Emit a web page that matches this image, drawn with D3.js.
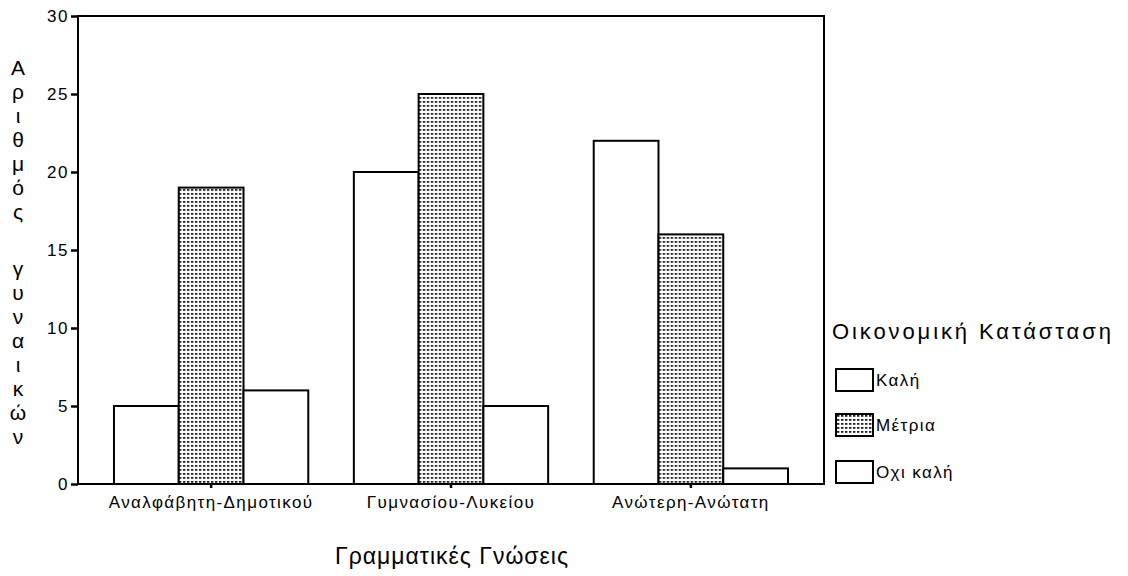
<!DOCTYPE html>
<html>
<head>
<meta charset="utf-8">
<title></title>
<style type="text/css">
body { margin: 0; background: #fff; }
text { font-family: "Liberation Sans", Arial, sans-serif; fill: #000; }
.bar { stroke: #000; stroke-width: 2px; }
.tick line { stroke: #000; stroke-width: 2.5px; }
</style>
</head>
<body>
<svg width="1128" height="576"></svg>
<script src="https://d3js.org/d3.v7.min.js"></script>
<script>
// data
var categories = ["Αναλφάβητη-Δημοτικού", "Γυμνασίου-Λυκείου", "Ανώτερη-Ανώτατη"]
var series = ["Καλή", "Μέτρια", "Οχι καλή"]
var kali = [5, 20, 22]
var metria = [19, 25, 16]
var oxiKali = [6, 5, 1]
var yTicks = [0, 5, 10, 15, 20, 25, 30]
var yTitleWords = ["Αριθμός", "γυναικών"]
var xTitle = "Γραμματικές Γνώσεις"
var legendTitle = "Οικονομική Κατάσταση"

var values = [kali, metria, oxiKali]

var svg = d3.select("svg")
// plot frame (note: "top" is taken by window.top, so use other names)
var plotL = 78, plotR = 824, plotT = 16, plotB = 484

// dotted fill for Μέτρια
var defs = svg.append("defs")
var pat = defs.append("pattern")
	.attr("id", "dots")
	.attr("patternUnits", "userSpaceOnUse")
	.attr("width", 4).attr("height", 4)
pat.append("rect").attr("width", 4).attr("height", 4).attr("fill", "#fff")
pat.append("rect").attr("x", 1).attr("y", 1).attr("width", 2.4).attr("height", 1.8).attr("fill", "#222")

var fills = ["#fff", "url(#dots)", "#fff"]

var x0 = d3.scaleBand()
	.domain(categories)
	.range([plotL, plotR])
	.paddingInner(0.19)
	.paddingOuter(0.15)

var x1 = d3.scaleBand()
	.domain(series)
	.range([0, x0.bandwidth()])

var y = d3.scaleLinear()
	.domain([0, 30])
	.range([plotB, plotT])

// bars
var groups = svg.append("g").selectAll("g")
	.data(categories)
	.enter().append("g")
	.attr("transform", function(d) { return "translate(" + x0(d) + ",0)" })

groups.selectAll("rect")
	.data(function(d, i) { return series.map(function(s, j) { return {s: s, j: j, v: values[j][i]} }) })
	.enter().append("rect")
	.attr("class", "bar")
	.attr("x", function(d) { return x1(d.s) })
	.attr("width", x1.bandwidth())
	.attr("y", function(d) { return y(d.v) })
	.attr("height", function(d) { return plotB - y(d.v) })
	.attr("fill", function(d) { return fills[d.j] })

// frame
svg.append("rect")
	.attr("x", plotL).attr("y", plotT)
	.attr("width", plotR - plotL).attr("height", plotB - plotT)
	.attr("fill", "none").attr("stroke", "#000").attr("stroke-width", 2)

// y axis
var yAxis = svg.append("g")
	.attr("transform", "translate(" + plotL + ",0)")
	.call(d3.axisLeft(y).tickValues(yTicks).tickSize(7).tickPadding(2))
yAxis.select(".domain").remove()
yAxis.selectAll("text")
	.style("font-size", "17px")
	.style("letter-spacing", "1.5px")
	.attr("font-family", "Liberation Sans, Arial, sans-serif")

// x axis
var xAxis = svg.append("g")
	.attr("transform", "translate(0," + plotB + ")")
	.call(d3.axisBottom(x0).tickSize(4).tickPadding(8))
xAxis.select(".domain").remove()
xAxis.selectAll("text")
	.style("font-size", "17px")
	.style("letter-spacing", "1.4px")
	.attr("font-family", "Liberation Sans, Arial, sans-serif")

// x title
svg.append("text")
	.attr("x", 452).attr("y", 564)
	.attr("text-anchor", "middle")
	.style("font-size", "23px")
	.style("letter-spacing", "1px")
	.text(xTitle)

// y title, one letter per line
var starts = [67, 268]
yTitleWords.forEach(function(w, wi) {
	Array.from(w).forEach(function(ch, ci) {
		svg.append("text")
			.attr("x", 18).attr("y", starts[wi] + ci * 24)
			.attr("text-anchor", "middle")
			.attr("dominant-baseline", "central")
			.style("font-size", "21px")
			.text(ch)
	})
})

// legend
svg.append("text")
	.attr("x", 832).attr("y", 339)
	.style("font-size", "22px")
	.style("letter-spacing", "2.9px")
	.text(legendTitle)

var legendY = [369, 414, 461]
var leg = svg.append("g").selectAll("g")
	.data(series)
	.enter().append("g")
	.attr("transform", function(d, i) { return "translate(836," + legendY[i] + ")" })
leg.append("rect")
	.attr("width", 37).attr("height", 22)
	.attr("fill", function(d, i) { return fills[i] })
	.attr("stroke", "#000").attr("stroke-width", 2)
leg.append("text")
	.attr("x", 40).attr("y", 17)
	.style("font-size", "17px")
	.style("letter-spacing", "1.4px")
	.text(function(d) { return d })
</script>
</body>
</html>
